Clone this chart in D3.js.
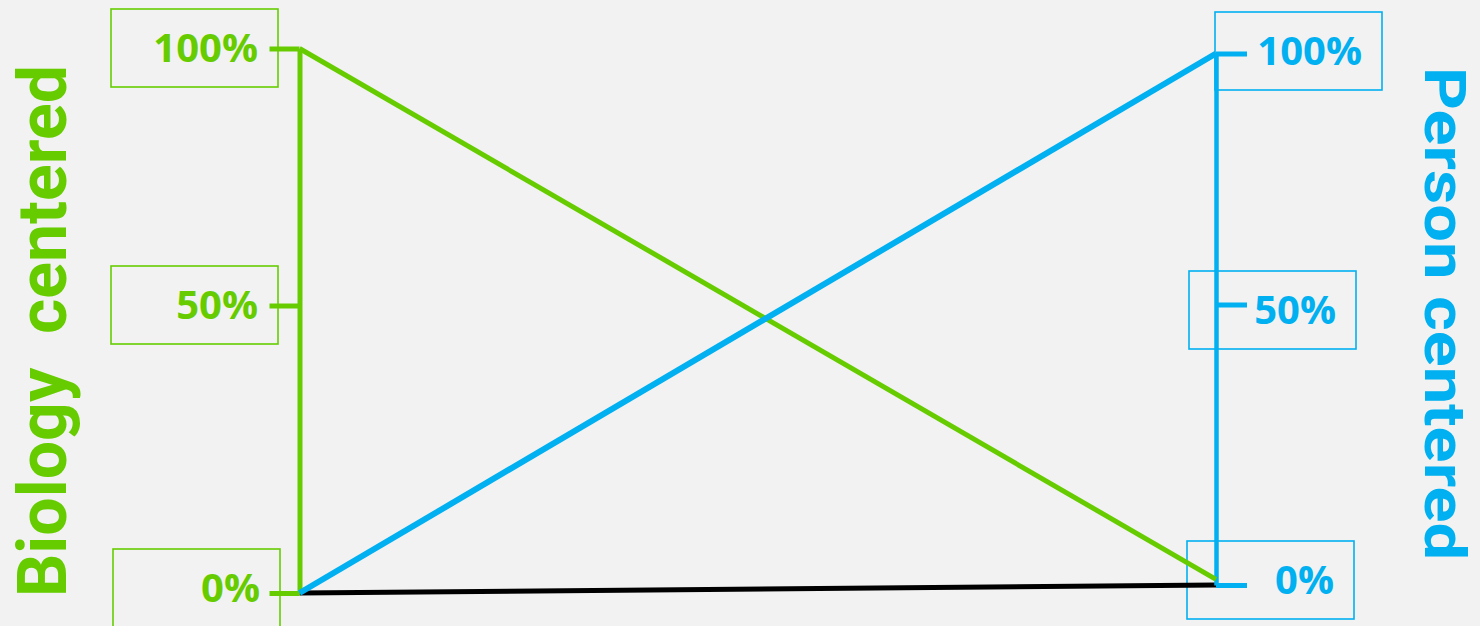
<!DOCTYPE html>
<html>
<head>
<meta charset="utf-8">
<script src="https://cdn.jsdelivr.net/npm/d3@7"></script>
<style>
  html, body { margin: 0; padding: 0; background: #f2f2f2; }
  svg { display: block; }
  text { font-family: "Open Sans", "Noto Sans", sans-serif; font-weight: 700; }
  text.title { font-family: Roboto, "Liberation Sans", sans-serif; font-weight: 700; }
</style>
</head>
<body>
<script>
// ---- data ----
const axisTitles = ["Biology  centered", "Person centered"];
const tickValues = [0, 50, 100];
const tickLabels = ["0%", "50%", "100%"];
const biologySeries = [100, 1];   // value on [left axis, right axis]
const personSeries = [0, 100];
const baselineSeries = [0, 0];

// ---- layout ----
const W = 1480, H = 626;
const green = "#66cc00", blue = "#00b0f0";
const leftX = 299.5, rightX = 1216;

const svg = d3.select("body").append("svg").attr("width", W).attr("height", H);
svg.append("rect").attr("width", W).attr("height", H).attr("fill", "#f2f2f2");

const yLeft = d3.scaleLinear().domain([0, 50, 100]).range([593, 305.5, 48.5]);
const yRight = d3.scaleLinear().domain([0, 50, 100]).range([585, 304.5, 53.5]);
const xPos = d3.scalePoint().domain(axisTitles).range([leftX, rightX]);

// label boxes (layout only): box left x, offset from tick y to box top
const leftBoxes = [{x: 113, dy: -44}, {x: 111, dy: -39.5}, {x: 111, dy: -39.5}];
const rightBoxes = [{x: 1187, dy: -44}, {x: 1189, dy: -33.5}, {x: 1215, dy: -41.5}];
const boxW = 167, boxH = 78;

function drawBoxes(scale, boxes, color) {
  const g = svg.append("g");
  tickValues.forEach((v, i) => {
    const b = boxes[i];
    const top = scale(v) + b.dy;
    g.append("rect").attr("x", b.x).attr("y", top).attr("width", boxW).attr("height", boxH)
      .attr("fill", "none").attr("stroke", color).attr("stroke-width", 1.6);
    g.append("text").attr("x", b.x + boxW - 20).attr("y", top + boxH / 2)
      .attr("dy", "0.36em").attr("text-anchor", "end")
      .attr("fill", color).attr("font-size", 40).text(tickLabels[i]);
  });
}
drawBoxes(yLeft, leftBoxes, green);
drawBoxes(yRight, rightBoxes, blue);

// baseline (black) connecting the 0% points
const line = d3.line().x((d, i) => xPos(axisTitles[i])).y((d, i) => (i === 0 ? yLeft : yRight)(d));
svg.append("path").datum(baselineSeries).attr("d", line)
  .attr("fill", "none").attr("stroke", "#000").attr("stroke-width", 5);

// axes
const axL = d3.axisLeft(yLeft).tickValues(tickValues).tickSize(30).tickSizeOuter(0).tickFormat("");
const gL = svg.append("g").attr("transform", `translate(${leftX},0)`).call(axL);
gL.select(".domain").attr("stroke", green).attr("stroke-width", 5);
gL.selectAll(".tick line").attr("stroke", green).attr("stroke-width", 5);

const axR = d3.axisRight(yRight).tickValues(tickValues).tickSize(31).tickSizeOuter(0).tickFormat("");
const gR = svg.append("g").attr("transform", `translate(${rightX},0)`).call(axR);
gR.select(".domain").attr("stroke", blue).attr("stroke-width", 4.5);
gR.selectAll(".tick line").attr("stroke", blue).attr("stroke-width", 5);

// series lines
svg.append("path").datum(biologySeries).attr("d", line)
  .attr("fill", "none").attr("stroke", green).attr("stroke-width", 5);
svg.append("path").datum(personSeries).attr("d", line)
  .attr("fill", "none").attr("stroke", blue).attr("stroke-width", 6);

// axis titles
svg.append("text").attr("class", "title")
  .attr("transform", `translate(66,${(65 + 597) / 2}) rotate(-90)`)
  .attr("text-anchor", "middle").attr("fill", green).attr("font-size", 68)
  .attr("textLength", 532).attr("lengthAdjust", "spacingAndGlyphs")
  .style("white-space", "pre")
  .text(axisTitles[0]);
svg.append("text").attr("class", "title")
  .attr("transform", `translate(1425,${(67 + 560) / 2}) rotate(90)`)
  .attr("text-anchor", "middle").attr("fill", blue).attr("font-size", 58)
  .attr("textLength", 493).attr("lengthAdjust", "spacingAndGlyphs")
  .text(axisTitles[1]);
</script>
</body>
</html>
